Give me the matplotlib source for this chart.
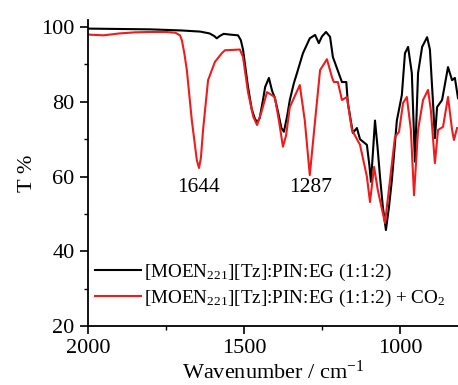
import numpy as np
import matplotlib
matplotlib.use('Agg')
import matplotlib.pyplot as plt
from matplotlib.ticker import MultipleLocator

plt.rcParams['font.family'] = ['Liberation Serif', 'DejaVu Serif']
plt.rcParams['mathtext.fontset'] = 'custom'
plt.rcParams['mathtext.rm'] = 'Liberation Serif'
plt.rcParams['mathtext.it'] = 'Liberation Serif:italic'

# pure DES
wn_black = [2000, 1900, 1800, 1700, 1640, 1610, 1595, 1587, 1578, 1565, 1545, 1519, 1510,
            1503, 1495, 1487, 1475, 1465, 1458, 1450, 1440, 1432, 1420, 1410, 1401, 1390,
            1380, 1372, 1362, 1353, 1340, 1330, 1311, 1289, 1272, 1260, 1250, 1237, 1224,
            1215, 1202, 1186, 1172, 1167, 1151, 1138, 1128, 1106, 1098, 1093, 1087, 1080,
            1072, 1064, 1055, 1045, 1035, 1026, 1010, 994, 984, 974, 962, 952, 942, 929,
            913, 904, 894, 888, 881, 865, 846, 833, 824, 814]
t_black = [99.6, 99.5, 99.4, 99.1, 98.8, 98.3, 97.6, 97.0, 97.6, 98.2, 98.0, 97.8, 96.5,
           94.0, 89.0, 84.0, 78.0, 75.5, 74.6, 75.5, 80.0, 84.0, 86.4, 83.0, 81.0, 77.0,
           73.0, 72.0, 76.0, 80.5, 85.0, 87.7, 93.0, 97.0, 97.9, 95.7, 97.5, 98.7, 97.4,
           92.0, 89.0, 85.3, 85.3, 79.7, 71.7, 73.0, 70.0, 68.5, 63.0, 58.6, 66.0, 75.0,
           68.0, 60.0, 52.0, 45.7, 52.0, 59.0, 75.0, 81.8, 93.0, 94.7, 87.7, 64.0, 87.7,
           94.7, 97.3, 94.0, 79.7, 70.3, 78.6, 80.5, 89.3, 85.8, 86.4, 81.0]

# DES + CO2
wn_red = [2000, 1950, 1900, 1850, 1800, 1750, 1720, 1705, 1699, 1691, 1683, 1667, 1651,
          1644, 1638, 1631, 1615, 1593, 1571, 1561, 1513, 1503, 1487, 1470, 1458, 1445,
          1426, 1401, 1388, 1375, 1365, 1353, 1321, 1305, 1289, 1272, 1256, 1234, 1218,
          1212, 1199, 1186, 1170, 1154, 1128, 1106, 1096, 1083, 1071, 1048, 1032, 1016,
          1003, 990, 978, 965, 955, 942, 926, 910, 901, 888, 878, 862, 846, 833, 827, 817]
t_red = [98.0, 97.8, 98.3, 98.6, 98.7, 98.7, 98.5, 97.8, 96.5, 93.0, 88.5, 75.0, 64.4,
         62.3, 65.0, 72.5, 85.8, 90.7, 93.0, 93.8, 94.0, 92.0, 82.6, 76.0, 73.8, 77.0,
         82.6, 81.3, 75.0, 68.0, 71.0, 78.6, 84.5, 75.0, 60.4, 75.0, 88.5, 91.4, 86.6,
         85.3, 85.3, 80.5, 81.3, 72.5, 68.5, 60.0, 53.2, 62.6, 56.4, 47.6, 59.0, 70.6,
         72.0, 79.7, 81.3, 72.5, 55.0, 72.5, 80.5, 83.2, 77.8, 63.6, 72.5, 73.3, 81.3,
         72.5, 69.8, 73.0]

peak_pos = [1644, 1287]
peak_lab = ['1644', '1287']

fig = plt.figure(figsize=(4.58, 3.85), dpi=100)
ax = fig.add_axes([0.192, 0.153, 0.808, 0.796])

ax.plot(wn_black, t_black, color='black', lw=1.5,
        label=r'[MOEN$_{\mathrm{221}}$][Tz]:PIN:EG (1:1:2)')
ax.plot(wn_red, t_red, color='#ee1c1c', lw=1.5,
        label=r'[MOEN$_{\mathrm{221}}$][Tz]:PIN:EG (1:1:2) + CO$_{\mathrm{2}}$')

for p, s in zip(peak_pos, peak_lab):
    ax.text(p, 57, s, ha='center', va='center', fontsize=15.5)

ax.set_xlim(2000, 814)
ax.set_ylim(20, 102)
ax.set_yticks([20, 40, 60, 80, 100])
ax.set_xticks([2000, 1500, 1000])
ax.xaxis.set_minor_locator(MultipleLocator(250))
ax.yaxis.set_minor_locator(MultipleLocator(10))
ax.tick_params(which='major', direction='out', length=6, width=1.2, labelsize=16)
ax.tick_params(which='minor', direction='out', length=3, width=1.0)
ax.spines['top'].set_visible(False)
ax.spines['right'].set_visible(False)
ax.spines['left'].set_linewidth(1.3)
ax.spines['bottom'].set_linewidth(1.3)

ax.set_xlabel(r'Wavenumber / cm$^{\mathrm{-1}}$', fontsize=16, labelpad=2)
ax.set_ylabel('T %', fontsize=16, labelpad=3)

ax.legend(loc='lower left', bbox_to_anchor=(-0.018, 0.012), frameon=False, fontsize=13.8,
          handlelength=2.4, handletextpad=0.15, labelspacing=0.25, borderaxespad=0.3)

fig.savefig('out.png', dpi=100)
